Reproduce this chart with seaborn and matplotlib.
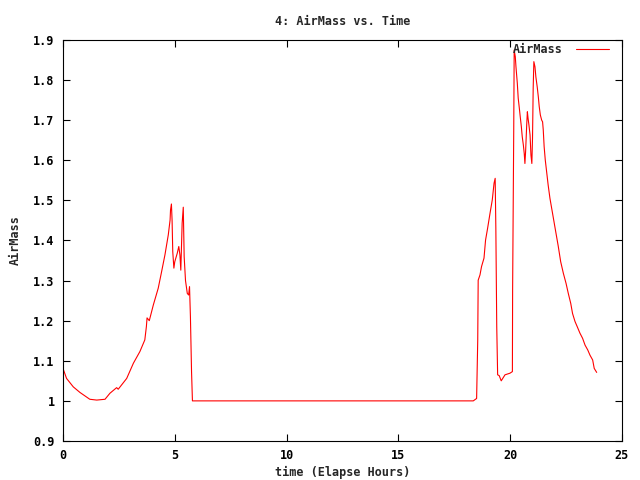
import matplotlib
matplotlib.use("Agg")
import matplotlib.pyplot as plt
import seaborn as sns
import pandas as pd

# hours since start
hours = [0.0, 0.16, 0.46, 0.76, 1.2, 1.51, 1.88, 2.1, 2.4, 2.47, 2.85, 3.15,
         3.44, 3.66, 3.73, 3.76, 3.86, 4.04, 4.26, 4.41, 4.56, 4.71, 4.79,
         4.81, 4.85, 4.88, 4.91, 4.96, 5.0, 5.11, 5.18, 5.23, 5.27, 5.33,
         5.38, 5.42, 5.48, 5.56, 5.62, 5.66, 5.7, 5.75, 5.79,
         18.35, 18.5, 18.55, 18.57, 18.65, 18.72, 18.83, 18.9, 18.99, 19.1,
         19.2, 19.28, 19.33, 19.36, 19.4, 19.44, 19.51, 19.6, 19.77, 19.99,
         20.1, 20.11, 20.16, 20.18, 20.23, 20.26, 20.32, 20.36, 20.41, 20.45,
         20.5, 20.54, 20.59, 20.63, 20.66, 20.69, 20.74, 20.77, 20.8, 20.84,
         20.89, 20.93, 20.97, 21.0, 21.03, 21.06, 21.11, 21.15, 21.21, 21.26,
         21.3, 21.35, 21.41, 21.45, 21.48, 21.52, 21.57, 21.63, 21.7, 21.78,
         21.87, 21.96, 22.05, 22.15, 22.26, 22.38, 22.5, 22.6, 22.71, 22.79,
         22.9, 23.0, 23.12, 23.24, 23.35, 23.47, 23.57, 23.69, 23.76, 23.87]
airmass = [1.081, 1.056, 1.035, 1.021, 1.004, 1.002, 1.004, 1.019, 1.033, 1.029,
           1.056, 1.094, 1.123, 1.152, 1.185, 1.207, 1.2, 1.239, 1.281, 1.322,
           1.364, 1.414, 1.451, 1.476, 1.491, 1.45, 1.372, 1.331, 1.347, 1.368,
           1.385, 1.364, 1.326, 1.443, 1.483, 1.36, 1.30, 1.268, 1.264, 1.285,
           1.21, 1.073, 1.0,
           1.0, 1.006, 1.152, 1.301, 1.314, 1.335, 1.356, 1.401, 1.43, 1.468,
           1.501, 1.543, 1.555, 1.43, 1.185, 1.065, 1.063, 1.05, 1.065, 1.069,
           1.073, 1.277, 1.676, 1.875, 1.858, 1.833, 1.792, 1.755, 1.73, 1.709,
           1.684, 1.659, 1.638, 1.617, 1.592, 1.621, 1.688, 1.721, 1.705, 1.688,
           1.663, 1.613, 1.592, 1.655, 1.78, 1.846, 1.833, 1.808, 1.783, 1.758,
           1.734, 1.713, 1.7, 1.696, 1.676, 1.634, 1.601, 1.572, 1.538, 1.505,
           1.476, 1.447, 1.418, 1.386, 1.347, 1.318, 1.293, 1.268, 1.243, 1.218,
           1.198, 1.185, 1.169, 1.156, 1.139, 1.127, 1.114, 1.102, 1.081, 1.071]

df = pd.DataFrame({"hours": hours, "AirMass": airmass})

sns.set_style("ticks")
plt.rcParams["font.family"] = ["DejaVu Sans Mono"]
plt.rcParams["font.weight"] = "bold"
plt.rcParams["xtick.direction"] = "in"
plt.rcParams["ytick.direction"] = "in"

fig = plt.figure(figsize=(6.4, 4.8), dpi=100)
ax = fig.add_axes([0.0984, 0.0813, 0.8734, 0.8354])

sns.lineplot(data=df, x="hours", y="AirMass", sort=False, estimator=None,
             color="#ff0000", linewidth=0.8, label="AirMass", ax=ax)

ax.set_xlim(0, 25)
ax.set_ylim(0.9, 1.9)
ax.set_xticks([0, 5, 10, 15, 20, 25])
ax.set_yticks([0.9, 1.0, 1.1, 1.2, 1.3, 1.4, 1.5, 1.6, 1.7, 1.8, 1.9])
ax.set_yticklabels(["0.9", "1", "1.1", "1.2", "1.3", "1.4", "1.5", "1.6",
                    "1.7", "1.8", "1.9"])
ax.tick_params(axis="both", which="both", top=True, right=True, length=5,
               width=0.8, labelsize=8.5, pad=6, colors="black")
for s in ax.spines.values():
    s.set_linewidth(0.8)
    s.set_color("black")

ax.set_xlabel("time (Elapse Hours)", fontsize=8.5, fontweight="bold")
ax.xaxis.set_label_coords(0.5, -0.062)
ax.set_ylabel("AirMass", fontsize=8.5, fontweight="bold", labelpad=8)
ax.set_title("4: AirMass vs. Time", fontsize=8.5, fontweight="bold", pad=11)

leg = ax.legend(loc="upper right", bbox_to_anchor=(0.992, 1.012),
                frameon=False, markerfirst=False, handlelength=2.8,
                fontsize=8.5, borderaxespad=0.3, handletextpad=1.1)

fig.savefig("out.png", dpi=100)
